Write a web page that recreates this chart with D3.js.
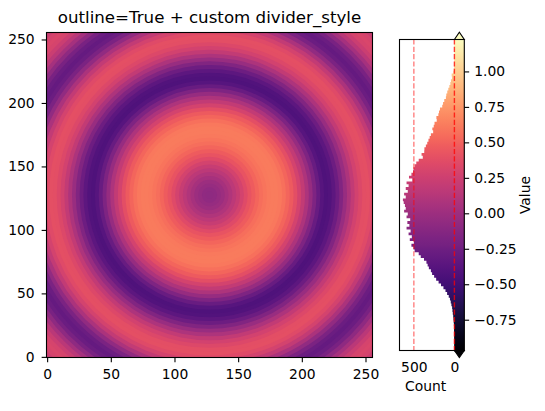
<!DOCTYPE html>
<html><head><meta charset="utf-8">
<script src="https://cdn.jsdelivr.net/npm/d3@7"></script>
<style>html,body{margin:0;background:#fff}svg{display:block}text{font-family:"DejaVu Sans";fill:#000}</style>
</head><body><div id="c"></div>
<script>
const ringValues = [-0.08,-0.07,-0.04,0,0.05,0.10,0.16,0.22,0.29,0.36,0.42,0.47,0.52,0.56,0.59,0.61,0.62,0.62,0.60,0.57,0.52,0.46,0.38,0.29,0.19,0.08,-0.04,-0.17,-0.29,-0.38,-0.42,-0.41,-0.35,-0.26,-0.15,-0.03,0.08,0.19,0.28,0.34,0.38,0.39,0.36,0.29,0.19,0.07,-0.06,-0.18,-0.27,-0.30,-0.27,-0.19,-0.08,0.04,0.15,0.24,0.30,0.32,0.30,0.24,0.16];
const ringWidth = 3;
// Histogram counts per 0.02-wide value bin, from the top of the colour bar down
const histCounts = [0,0,0,0,0,0,0,0,0,1,2,8,14,34,30,43,50,62,75,88,100,105,125,140,150,178,190,198,222,218,245,255,272,262,290,305,320,335,352,370,372,405,390,440,470,490,505,510,530,560,520,590,565,600,575,620,600,635,625,610,600,620,575,590,545,580,555,590,540,565,525,550,500,530,505,490,440,415,375,345,330,315,290,275,250,225,195,165,135,110,90,70,55,45,37,28,24,20,15,12,9,6,5,4,3,2,1,1,0,0];
const valueTicks = [-0.75,-0.5,-0.25,0,0.25,0.5,0.75,1];
const imageTicks = [0,50,100,150,200,250];
const countTicks = [0,500];
const dividerCounts = [0,500];
const vMin = -0.967, vMax = 1.225, binStep = 0.02;
const imageCentre = 127.5;

const W=545,H=411,fs=13.89,sw=1.1,tl=4.86;
const svg=d3.select("#c").append("svg").attr("width",W).attr("height",H);
const defs=svg.append("defs");
const x=d3.scaleLinear([-0.5,255.5],[46.5,372.5]);
const y=d3.scaleLinear([-0.5,255.5],[357.5,32.5]);
const v=d3.scaleLinear([vMin,vMax],[350.5,39.5]);
const c=d3.scaleLinear([677,-122],[399.5,464.3]);
const colour=d3.scaleSequential(d3.interpolateMagma).domain([vMin,vMax]);

defs.append("clipPath").attr("id","plot").append("rect")
 .attr("x",46.5).attr("y",32.5).attr("width",326).attr("height",325);
const g=defs.append("linearGradient").attr("id","ramp").attr("gradientUnits","userSpaceOnUse")
 .attr("x1",0).attr("x2",0).attr("y1",v(vMin)).attr("y2",v(vMax));
d3.range(0,1.0001,0.02).forEach(t=>g.append("stop").attr("offset",t).attr("stop-color",d3.interpolateMagma(t)));

// image
const rings=ringValues.map((val,i)=>({val,outer:(i+1)*ringWidth}));
svg.append("g").attr("clip-path","url(#plot)")
 .call(s=>s.append("rect").attr("x",46.5).attr("y",32.5).attr("width",326).attr("height",325).attr("fill",colour(ringValues[ringValues.length-1])))
 .selectAll("circle").data(rings.slice().reverse()).join("circle")
 .attr("cx",x(imageCentre)).attr("cy",y(imageCentre))
 .attr("r",d=>x(d.outer)-x(0)).attr("fill",d=>colour(d.val));

function style(a){
 a.selectAll(".domain").remove();
 a.selectAll("line").attr("stroke","#000").attr("stroke-width",sw);
 a.selectAll("text").attr("font-size",fs).attr("font-family","DejaVu Sans");
}
svg.append("g").attr("transform","translate(0,357.5)")
 .call(d3.axisBottom(x).tickValues(imageTicks).tickSize(tl).tickPadding(7).tickFormat(d3.format("d"))).call(style);
svg.append("g").attr("transform","translate(46.5,0)")
 .call(d3.axisLeft(y).tickValues(imageTicks).tickSize(tl).tickPadding(7).tickFormat(d3.format("d"))).call(style);
svg.append("rect").attr("x",46.5).attr("y",32.5).attr("width",326).attr("height",325)
 .attr("fill","none").attr("stroke","#000").attr("stroke-width",sw);
svg.append("text").attr("x",209.5).attr("y",23).attr("text-anchor","middle").attr("font-size",16.67)
 .text("outline=True + custom divider_style");

// histogram bars + colour bar, as one stepped shape so no seams show between bins
const right=c.range()[1];
const steps=histCounts.map((d,i)=>({d,edge:vMax-i*binStep}));
steps.push({d:histCounts[histCounts.length-1],edge:vMax-histCounts.length*binStep});
svg.append("path").datum(steps)
 .attr("d",d3.area().curve(d3.curveStepAfter).y(p=>v(p.edge)).x0(p=>c(p.d)).x1(right))
 .attr("fill","url(#ramp)");
svg.append("rect").attr("x",c(0)).attr("y",39.5).attr("width",right-c(0)).attr("height",311).attr("fill","url(#ramp)");

// extension triangles
const tri=(y0,y1,f)=>svg.append("path")
 .attr("d",d3.line()([[c(0),y0],[(c(0)+right)/2,y1],[right,y0]])+"Z")
 .attr("fill",f).attr("stroke","#000").attr("stroke-width",sw);
tri(39.5,32.3,colour(vMax));
tri(350.5,357.6,colour(vMin));

// divider lines
svg.append("g").selectAll("line").data(dividerCounts).join("line")
 .attr("x1",d=>c(d)).attr("x2",d=>c(d)).attr("y1",39.5).attr("y2",350.5)
 .attr("stroke","#ff0000").attr("stroke-opacity",d=>d===0?0.75:0.5).attr("stroke-width",1.39).attr("stroke-dasharray","5.1,2.2");

svg.append("rect").attr("x",399.5).attr("y",39.5).attr("width",64.8).attr("height",311)
 .attr("fill","none").attr("stroke","#000").attr("stroke-width",sw);

svg.append("g").attr("transform","translate(464.3,0)")
 .call(d3.axisRight(v).tickValues(valueTicks).tickSize(tl).tickPadding(5).tickFormat(t=>d3.format(".2f")(t).replace("-","\u2212"))).call(style);
svg.append("g").attr("transform","translate(0,350.5)")
 .call(d3.axisBottom(c).tickValues(countTicks).tickSize(0).tickPadding(12).tickFormat(d3.format("d"))).call(style);

svg.append("text").attr("x",425.7).attr("y",391).attr("text-anchor","middle").attr("font-size",fs).text("Count");
svg.append("text").attr("transform","translate(530,195) rotate(-90)").attr("text-anchor","middle").attr("font-size",fs).text("Value");
</script></body></html>
